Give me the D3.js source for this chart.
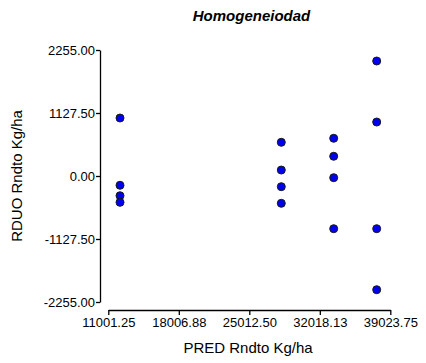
<!DOCTYPE html>
<html>
<head>
<meta charset="utf-8">
<script src="https://cdn.jsdelivr.net/npm/d3@7"></script>
<style>
  body { margin: 0; background: #fff; }
  svg text { font-family: "Liberation Sans", Arial, sans-serif; fill: #000; }
  .axis path, .axis line { stroke: #000; stroke-width: 1.3; }
</style>
</head>
<body>
<svg id="chart" width="426" height="363"></svg>
<script>
const TITLE = "Homogeneiodad";
const X_LABEL = "PRED Rndto Kg/ha";
const Y_LABEL = "RDUO Rndto Kg/ha";

// predicted yield (x) and residual (y) per observation
const predicted = [
  12164, 12164, 12164, 12164,
  28192, 28192, 28192, 28192,
  33399, 33399, 33399, 33399,
  37672, 37672, 37672, 37672
];
const residuals = [
  1038, -166, -353, -471,
  603, 107, -191, -489,
  675, 353, -30, -943,
  2058, 966, -943, -2035
];

const X_TICKS = [11001.25, 18006.88, 25012.50, 32018.13, 39023.75];
const Y_TICKS = [-2255.00, -1127.50, 0.00, 1127.50, 2255.00];

// plain hyphen for negatives, like the original
const fmt = (d) => d.toFixed(2);

const svg = d3.select("#chart");

const x = d3.scaleLinear().domain([11001.25, 39023.75]).range([108.3, 390.3]);
const y = d3.scaleLinear().domain([-2255, 2255]).range([302, 50]);

// Y axis (detached from x axis)
const yAxis = svg.append("g")
  .attr("class", "axis")
  .attr("transform", "translate(100,0)")
  .call(d3.axisLeft(y).tickValues(Y_TICKS).tickFormat(fmt).tickSize(4).tickSizeOuter(0));
yAxis.selectAll("text").attr("font-size", 13).attr("x", -5);

// X axis
const xAxis = svg.append("g")
  .attr("class", "axis")
  .attr("transform", "translate(0,310)")
  .call(d3.axisBottom(x).tickValues(X_TICKS).tickFormat(fmt).tickSize(5).tickSizeOuter(0));
xAxis.selectAll("text").attr("font-size", 13).attr("y", 8);

// Title
svg.append("text")
  .attr("x", 251.5)
  .attr("y", 21)
  .attr("text-anchor", "middle")
  .attr("font-size", 15)
  .attr("font-weight", "bold")
  .attr("font-style", "italic")
  .text(TITLE);

// Axis titles
svg.append("text")
  .attr("x", 248)
  .attr("y", 353)
  .attr("text-anchor", "middle")
  .attr("font-size", 15)
  .text(X_LABEL);

svg.append("text")
  .attr("transform", "translate(22,176) rotate(-90)")
  .attr("text-anchor", "middle")
  .attr("font-size", 15)
  .text(Y_LABEL);

// Points
svg.append("g")
  .selectAll("circle")
  .data(predicted.map((p, i) => ({ p, r: residuals[i] })))
  .enter()
  .append("circle")
  .attr("cx", (d) => x(d.p))
  .attr("cy", (d) => y(d.r))
  .attr("r", 4)
  .attr("fill", "#0000ee")
  .attr("stroke", "#1a1a1a")
  .attr("stroke-width", 1);
</script>
</body>
</html>
